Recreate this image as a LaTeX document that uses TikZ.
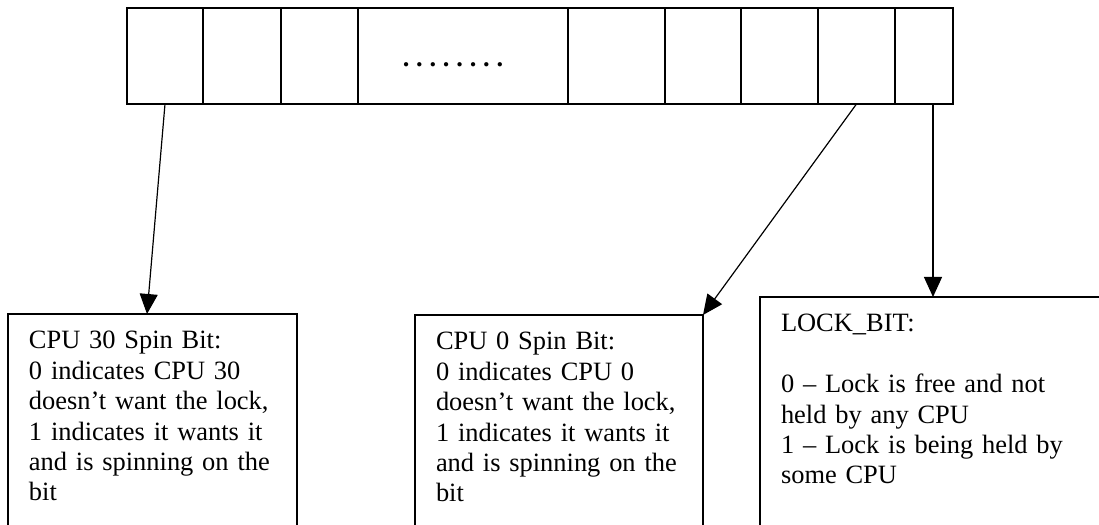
\documentclass[tikz,border=0pt]{standalone}
\usepackage{fontspec}
\setmainfont{Liberation Serif}
\usetikzlibrary{positioning, arrows.meta}

\begin{document}
\begin{tikzpicture}[
    line width=0.85pt,
    cell/.style={draw, minimum height=2.4cm, inner sep=0pt, outer sep=0pt},
    bitbox/.style={draw, anchor=north west, align=left, inner xsep=0.525cm, inner ysep=0pt, outer sep=0pt,
        text height=0.875cm, text depth=6cm, font=\fontsize{18.8pt}{21.6pt}\selectfont},
    ptr/.style={-{Triangle[length=0.5cm, width=0.45cm]}}
]
    \useasboundingbox (0, 0) rectangle (27.475, 13.1);
    \clip (0, 0) rectangle (27.475, 13.1);
    \node[cell, minimum width=1.9cm, anchor=north west] (c1) at (3.175, 12.9) {};
    \node[cell, minimum width=1.95cm, right=0pt of c1] (c2) {};
    \node[cell, minimum width=1.925cm, right=0pt of c2] (c3) {};
    \node[cell, minimum width=5.25cm, right=0pt of c3] (c4) {};
    \node[cell, minimum width=2.425cm, right=0pt of c4] (c5) {};
    \node[cell, minimum width=1.9cm, right=0pt of c5] (c6) {};
    \node[cell, minimum width=1.925cm, right=0pt of c6] (c7) {};
    \node[cell, minimum width=1.925cm, right=0pt of c7] (c8) {};
    \node[cell, minimum width=1.45cm, right=0pt of c8] (c9) {};
    \node[anchor=base, font=\fontsize{18.8pt}{21.6pt}\selectfont\bfseries] (dots) at (11.325, 11.425)
        {.\kern1.7mm.\kern1.7mm.\kern1.7mm.\kern1.7mm.\kern1.7mm.\kern1.7mm.\kern1.7mm.};
    \node[bitbox, text width=6.175cm] (spin30) at (0.2, 5.25) {CPU 30 Spin Bit:\\ 0 indicates CPU 30\\ doesn’t want the lock,\\ 1 indicates it wants it\\ and is spinning on the\\ bit};
    \node[bitbox, text width=6.15cm] (spin0) at (10.375, 5.225) {CPU 0 Spin Bit:\\ 0 indicates CPU 0\\ doesn’t want the lock,\\ 1 indicates it wants it\\ and is spinning on the\\ bit};
    \node[bitbox, text width=8cm] (lock) at (19, 5.675) {LOCK\_BIT:\\[21.6pt] 0 – Lock is free and not\\ held by any CPU\\ 1 – Lock is being held by\\ some CPU};
    \draw[ptr] (c1.south) -- ([xshift=3.475cm] spin30.north west);
    \draw[ptr] (c8.south) -- (spin0.north east);
    \draw[ptr] ([xshift=0.225cm] c9.south) -- ([xshift=0.225cm] c9.south |- lock.north);
\end{tikzpicture}
\end{document}
